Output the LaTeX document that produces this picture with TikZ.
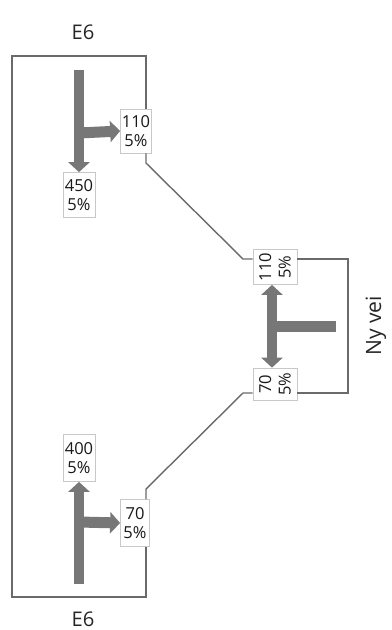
\documentclass[tikz,border=0pt]{standalone}
\usepackage{fontspec}
\setmainfont{Open Sans}
\usetikzlibrary{arrows.meta}
\definecolor{arrowgray}{HTML}{777777}
\definecolor{linegray}{HTML}{6A6A6A}
\definecolor{boxgray}{HTML}{C8C8C8}
\tikzset{
  valbox/.style={draw=boxgray, line width=0.4pt, fill=white, align=center, inner sep=0.5pt,
    font=\fontsize{9.4}{11}\selectfont, text=black!90},
  road/.style={draw=linegray, line width=0.8pt},
  flow/.style={draw=arrowgray, line width=0.22cm, -{Triangle[length=0.2cm,width=0.42cm]}},
  flowbar/.style={draw=arrowgray, line width=0.22cm},
  lbl/.style={font=\fontsize{11.5}{13}\selectfont, text=black!85}
}
\begin{document}
\begin{tikzpicture}[x=0.02cm,y=-0.02cm]
\useasboundingbox (0,0) rectangle (392,630);
% nodes
\node[valbox, minimum width=31*0.02cm, minimum height=44*0.02cm] (b110) at (136,131) {110\\5\%};
\node[valbox, minimum width=32*0.02cm, minimum height=45*0.02cm] (b450) at (79,195) {450\\5\%};
\node[valbox, minimum width=32*0.02cm, minimum height=47*0.02cm] (b400) at (79,458) {400\\5\%};
\node[valbox, minimum width=29*0.02cm, minimum height=47*0.02cm] (b70) at (135,523) {70\\5\%};
\node[valbox, rotate=90, minimum width=35*0.02cm, minimum height=44*0.02cm] (m110) at (275,267) {110\\5\%};
\node[valbox, rotate=90, minimum width=32*0.02cm, minimum height=44*0.02cm] (m70) at (275,384) {70\\5\%};
\node[lbl] (e6top) at (83,32) {E6};
\node[lbl, inner sep=0pt] (e6bot) at (83,619) {E6};
\node[lbl, rotate=90, font=\fontsize{12}{14}\selectfont] (ny) at (376,326) {Ny vei};
% road outline
\coordinate (tl) at (12,56);
\coordinate (tr) at (146,56);
\coordinate (r1) at (146,163);
\coordinate (d1) at (243,259);
\coordinate (mr1) at (348,259);
\coordinate (mr2) at (348,393);
\coordinate (d2) at (243,393);
\coordinate (r2) at (146,489);
\coordinate (br) at (146,597);
\coordinate (bl) at (12,597);
\draw[road] (b110.north -| tr) -- (tr) -- (tl) -- (bl) -- (br) -- (b70.south -| br);
\draw[road] (b70.north -| r2) -- (r2) -- (d2) -- (d2 -| m70.north);
\draw[road] (mr2 -| m70.south) -- (mr2) -- (mr1) -- (mr1 -| m110.south);
\draw[road] (d1 -| m110.north) -- (d1) -- (r1) -- (b110.south -| r1);
% top arrows
\coordinate (t0) at (79,70);
\coordinate (tj) at (79,133);
\draw[flow] (t0) -- (b450.north);
\draw[flow] (tj) -- (b110.west);
% bottom arrows
\coordinate (u0) at (79,584);
\coordinate (uj) at (79,522);
\draw[flow] (u0) -- (b400.south);
\draw[flow] (uj) -- (b70.west);
% middle arrows
\coordinate (mc) at (272,326);
\coordinate (me) at (336,326);
\draw[flowbar] (mc) -- (me);
\draw[draw=arrowgray, line width=0.2cm, {Triangle[length=0.2cm,width=0.42cm]}-{Triangle[length=0.2cm,width=0.42cm]}] (m110.west -| mc) -- (m70.east -| mc);
\end{tikzpicture}
\end{document}
